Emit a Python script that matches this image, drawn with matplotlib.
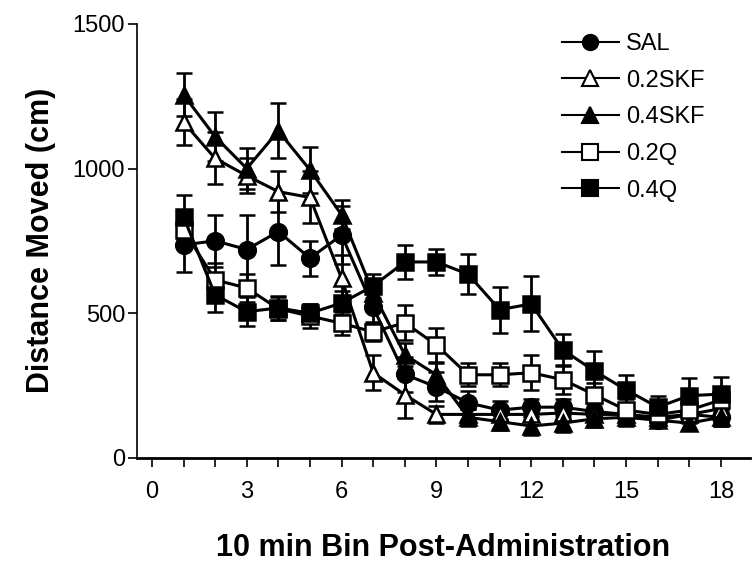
import numpy as np
import matplotlib
matplotlib.use('Agg')
import matplotlib.pyplot as plt
from matplotlib.lines import Line2D

plt.rcParams['font.family'] = ['Liberation Sans', 'DejaVu Sans']

bins = np.arange(1, 19)

names = ('SAL', '0.2SKF', '0.4SKF', '0.2Q', '0.4Q')

sal = [736, 750, 720, 782, 690, 770, 520, 288, 245, 190, 165, 175, 175, 160, 150, 130, 150, 140]
sal_err = [95, 90, 120, 115, 60, 100, 50, 60, 50, 40, 30, 30, 30, 30, 25, 25, 30, 30]

skf02 = [1160, 1035, 975, 920, 900, 620, 294, 218, 150, 150, 150, 150, 155, 150, 150, 140, 150, 170]
skf02_err = [80, 90, 60, 70, 90, 80, 60, 80, 30, 20, 20, 20, 20, 20, 20, 20, 20, 20]

skf04 = [1255, 1110, 1000, 1130, 995, 840, 570, 356, 287, 140, 125, 110, 120, 135, 140, 130, 120, 140]
skf04_err = [75, 85, 70, 95, 80, 50, 40, 40, 40, 30, 30, 30, 30, 30, 30, 25, 25, 30]

q02 = [788, 615, 587, 515, 490, 465, 435, 467, 390, 287, 287, 294, 270, 218, 165, 150, 165, 200]
q02_err = [60, 60, 50, 40, 40, 40, 30, 60, 60, 40, 40, 60, 50, 40, 40, 30, 30, 30]

q04 = [833, 563, 505, 518, 500, 535, 594, 677, 677, 635, 512, 532, 373, 300, 235, 175, 215, 220]
q04_err = [75, 60, 50, 40, 30, 40, 40, 60, 45, 70, 80, 95, 55, 70, 50, 40, 60, 60]

fig = plt.figure(figsize=(7.53, 5.68), dpi=100)
ax = fig.add_axes([0.182, 0.194, 0.814, 0.764])

series = [
    (sal, sal_err, 'o', 'black'),
    (skf02, skf02_err, '^', 'white'),
    (skf04, skf04_err, '^', 'black'),
    (q02, q02_err, 's', 'white'),
    (q04, q04_err, 's', 'black'),
]

for (y, e, m, fc), name in zip(series, names):
    ax.errorbar(bins, y, yerr=e, color='black', marker=m, mfc=fc, mec='black',
                mew=1.8, ms=12, lw=2.2, elinewidth=2, capsize=6, capthick=2.5,
                label=name)

ax.set_xlim(-0.47, 18.92)
ax.set_ylim(0, 1500)
ax.set_yticks([0, 500, 1000, 1500])
ax.set_xticks(np.arange(0, 19, 3))
ax.set_xticks(np.arange(0, 19, 1), minor=True)
ax.tick_params(axis='both', labelsize=17, direction='out', width=1.2, length=6.5)
ax.tick_params(axis='y', pad=2)
ax.tick_params(axis='x', pad=10)
ax.tick_params(axis='x', which='minor', direction='out', width=1.2, length=6.5)
for s in ('top', 'right'):
    ax.spines[s].set_visible(False)
ax.spines['left'].set_linewidth(1.2)
ax.spines['bottom'].set_linewidth(2)

ax.set_xlabel('10 min Bin Post-Administration', fontsize=22, fontweight='bold', labelpad=22)
ax.set_ylabel('Distance Moved (cm)', fontsize=22, fontweight='bold', labelpad=12)

# legend: line + marker, text to the right, no frame
leg_handles = [Line2D([], [], color='black', lw=1.5, marker=m, mfc=fc, mec='black', ms=11, mew=1.5)
               for (_, _, m, fc) in series]
ax.legend(leg_handles, names, loc='upper left', bbox_to_anchor=(562 / 753, 1 - 33 / 568),
          bbox_transform=fig.transFigure, frameon=False, borderpad=0, borderaxespad=0,
          fontsize=17, handlelength=2.4, handletextpad=0.3, labelspacing=0.62)

plt.savefig('out.png', dpi=100)
